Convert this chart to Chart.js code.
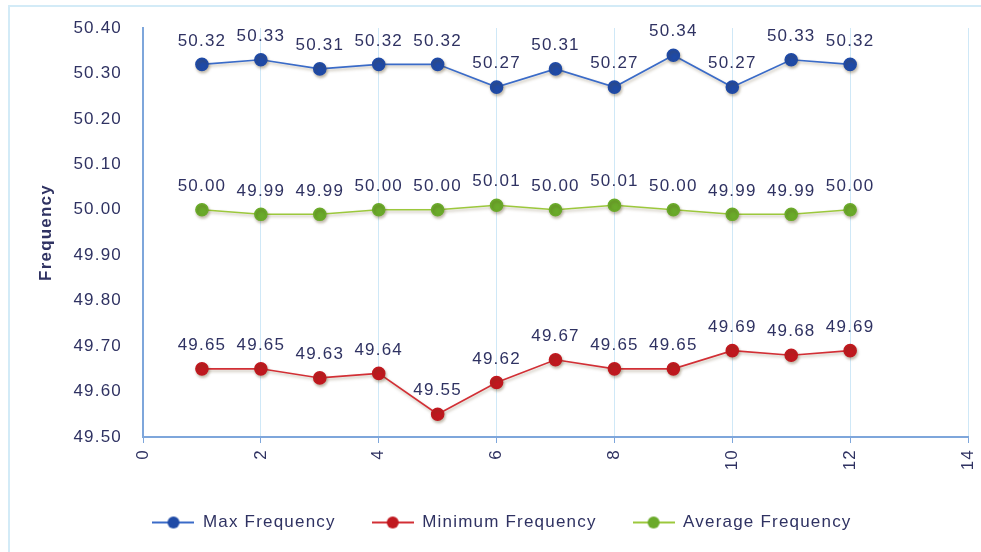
<!DOCTYPE html>
<html><head><meta charset="utf-8">
<script src="https://cdn.jsdelivr.net/npm/chart.js@4/dist/chart.umd.min.js"></script>
<style>html,body{margin:0;padding:0;background:#fff;}#wrap{width:981px;height:552px;}</style>
</head><body><div id="wrap"><canvas id="c" width="981" height="552"></canvas></div>
<script>
const xValues = [1,2,3,4,5,6,7,8,9,10,11,12];
const maxFreq = [50.32,50.33,50.31,50.32,50.32,50.27,50.31,50.27,50.34,50.27,50.33,50.32];
const minFreq = [49.65,49.65,49.63,49.64,49.55,49.62,49.67,49.65,49.65,49.69,49.68,49.69];
const avgFreq = [50.00,49.99,49.99,50.00,50.00,50.01,50.00,50.01,50.00,49.99,49.99,50.00];
const seriesNames = ['Max Frequency','Minimum Frequency','Average Frequency'];
const yTitle = 'Frequency';

const TXT = '#2f3262';
const FONT = "'Liberation Sans', Arial, sans-serif";
const LS = '1.2px';
const cols = [
  {line:'#3a6bc8', pt:'#1f4aa6'},
  {line:'#d22f35', pt:'#c0181f'},
  {line:'#9cc83c', pt:'#6aaa2a'}
];
function toPts(arr){ return xValues.map((x,i)=>({x:x,y:arr[i]})); }

function legendImg(c){
  const cv=document.createElement('canvas'); cv.width=42; cv.height=14;
  const g=cv.getContext('2d');
  g.strokeStyle=c.line; g.lineWidth=2; g.beginPath(); g.moveTo(0,7); g.lineTo(42,7); g.stroke();
  g.fillStyle=c.pt; g.beginPath(); g.arc(21,7,6,0,Math.PI*2); g.fill();
  return cv;
}

const ctx=document.getElementById('c').getContext('2d');

const spacingPlugin={id:'ls',
  beforeUpdate(chart){chart.ctx.letterSpacing=LS;},
  beforeLayout(chart){chart.ctx.letterSpacing=LS;},
  beforeDraw(chart){chart.ctx.letterSpacing=LS;}
};
const borderPlugin={id:'border',beforeDraw(chart){
  const g=chart.ctx; g.save(); g.strokeStyle='#d3ebf7'; g.lineWidth=2;
  g.strokeRect(9,6,1000,600); g.restore();
}};
const labelPlugin={id:'dl',afterDatasetsDraw(chart){
  const g=chart.ctx; g.save();
  g.font='17px '+FONT; g.fillStyle=TXT; g.textAlign='center'; g.textBaseline='bottom';
  chart.data.datasets.forEach((ds,di)=>{
    chart.getDatasetMeta(di).data.forEach((p,i)=>{
      g.fillText(ds.data[i].y.toFixed(2), p.x, p.y-15);
    });
  });
  g.restore();
}};
const shadowPlugin={id:'sh',
  beforeDatasetsDraw(chart){const g=chart.ctx; g.save(); g.shadowColor='rgba(90,70,30,0.35)'; g.shadowOffsetY=2; g.shadowOffsetX=1; g.shadowBlur=3;},
  afterDatasetsDraw(chart){chart.ctx.restore();}
};

const datasets=[maxFreq,minFreq,avgFreq].map((arr,i)=>({
  label:seriesNames[i], data:toPts(arr),
  borderColor:cols[i].line, backgroundColor:cols[i].pt,
  pointBackgroundColor:cols[i].pt, pointBorderColor:cols[i].pt,
  pointRadius:6, pointHoverRadius:6, borderWidth:1.6, tension:0,
  pointStyle:'circle', legendImage:legendImg(cols[i])
}));

new Chart(ctx,{
  type:'line',
  data:{datasets},
  options:{
    responsive:false, animation:false, devicePixelRatio:1,
    layout:{padding:{left:36,right:13,top:28,bottom:11}},
    plugins:{
      tooltip:{enabled:false},
      legend:{position:'bottom',
        labels:{usePointStyle:true, pointStyleWidth:42, boxHeight:14, padding:36, color:TXT,
          font:{family:FONT,size:17},
          generateLabels(chart){
            return chart.data.datasets.map((d,i)=>({text:d.label, pointStyle:d.legendImage, fillStyle:d.backgroundColor, strokeStyle:d.borderColor, lineWidth:0, fontColor:TXT, hidden:false, datasetIndex:i}));
          }}}
    },
    scales:{
      x:{type:'linear', min:0, max:14,
        ticks:{stepSize:2, minRotation:90, maxRotation:90, color:TXT, font:{family:FONT,size:17}, padding:6},
        grid:{color:'#cfe8f7', lineWidth:1, drawTicks:true, tickLength:6, tickColor:'#7ea6db'},
        border:{color:'#7ea6db', width:2},
        afterFit(s){ s.height=41; s.paddingRight=0; s.paddingLeft=0; }
      },
      y:{min:49.5, max:50.4,
        ticks:{stepSize:0.1, color:TXT, font:{family:FONT,size:17}, padding:13, callback:v=>v.toFixed(2)},
        grid:{display:false},
        border:{color:'#7ea6db', width:2},
        title:{display:true, text:yTitle, color:TXT, font:{family:FONT,size:17,weight:'bold'}, padding:{top:0,bottom:8}},
        afterFit(s){ s.width=107; }
      }
    }
  },
  plugins:[spacingPlugin,borderPlugin,shadowPlugin,labelPlugin]
});
</script></body></html>
